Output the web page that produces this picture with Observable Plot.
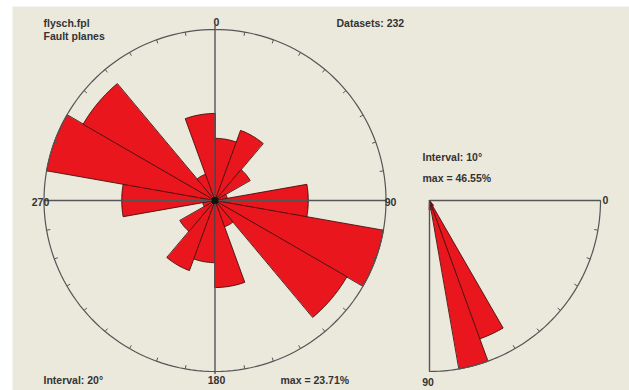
<!DOCTYPE html>
<html>
<head>
<meta charset="utf-8">
<script src="https://cdn.jsdelivr.net/npm/d3@7"></script>
<script src="https://cdn.jsdelivr.net/npm/@observablehq/plot@0.6"></script>
<style>
  html, body { margin: 0; padding: 0; background: #fff; }
</style>
</head>
<body>
<div id="chart"></div>
<script>
// Strike rose of fault planes, 20° classes (bidirectional: each class is repeated at +180°)
const strikeClassStart = [0, 20, 40, 60, 80, 100, 120, 140, 160];
const strikeCounts     = [20, 24, 13, 4, 30, 55, 49, 9, 28];
const strikeInterval = 20;

// Dip diagram, 10° classes (0 = horizontal, 90 = vertical)
const dipClassStart = [0, 10, 20, 30, 40, 50, 60, 70, 80];
const dipCounts     = [0, 0, 0, 0, 0, 4, 93, 108, 6];
const dipInterval = 10;

const fileName = "flysch.fpl";
const dataType = "Fault planes";
const datasetCount = 232;
const compassLabels = [{a: 0, t: "0"}, {a: 90, t: "90"}, {a: 180, t: "180"}, {a: 270, t: "270"}];
const dipLabels = [{a: 0, t: "0"}, {a: 90, t: "90"}];

// layout (pixels): rose centre, radius and the dip quadrant's apex
const W = 629, H = 390, R = 171;
const CX = 214.5, CY = 200, QX = 429;
const X = px => (px - CX) / R;
const Y = py => (CY - py) / R;
const rad = d => d * Math.PI / 180;

const pct = c => 100 * c / datasetCount;
const strikeMax = d3.max(strikeCounts.map(pct));
const dipMax = d3.max(dipCounts.map(pct));

// petal outlines in scale units (1 = outer circle)
const petals = [];
strikeClassStart.forEach((a0, i) => {
  const r = pct(strikeCounts[i]) / strikeMax;
  if (r <= 0) return;
  for (const off of [0, 180]) {
    const id = `s${a0 + off}`;
    petals.push({id, x: 0, y: 0});
    for (let k = 0; k <= 10; k++) {
      const a = rad(a0 + off + strikeInterval * k / 10);
      petals.push({id, x: r * Math.sin(a), y: r * Math.cos(a)});
    }
  }
});
const qx0 = X(QX);
dipClassStart.forEach((a0, i) => {
  const r = pct(dipCounts[i]) / dipMax;
  if (r <= 0) return;
  const id = `d${a0}`;
  petals.push({id, x: qx0, y: 0});
  for (let k = 0; k <= 10; k++) {
    const a = rad(a0 + dipInterval * k / 10);
    petals.push({id, x: qx0 + r * Math.cos(a), y: -r * Math.sin(a)});
  }
});

const circle = d3.range(0, 361, 2).map(d => ({x: Math.sin(rad(d)), y: Math.cos(rad(d))}));
const arc = d3.range(0, 91, 1).map(d => ({x: qx0 + Math.cos(rad(d)), y: -Math.sin(rad(d))}));
const circleTicks = d3.range(10, 360, 10).filter(d => d % 90 !== 0);
const arcTicks = d3.range(10, 90, 10);
const tl = 0.022;

const font = {fontWeight: "bold", fill: "#333", fontSize: 10.5};

const chart = Plot.plot({
  width: W, height: H,
  marginLeft: 12, marginTop: 6, marginRight: 0, marginBottom: 0,
  x: {domain: [X(12), X(W)], axis: null},
  y: {domain: [Y(H), Y(6)], axis: null},
  style: {background: "#fff", fontFamily: "'Liberation Sans', Arial, sans-serif"},
  marks: [
    Plot.frame({fill: "#ebe8dc", stroke: null}),
    // petals
    Plot.line(petals, {x: "x", y: "y", z: "id", fill: "#e9161d", stroke: "#4a0d0d", strokeWidth: 0.9, curve: "linear-closed"}),
    // outer circle and its 10° ticks
    Plot.line(circle, {x: "x", y: "y", stroke: "#555", strokeWidth: 1.2}),
    Plot.link(circleTicks, {x1: d => Math.sin(rad(d)), y1: d => Math.cos(rad(d)),
      x2: d => (1 - tl) * Math.sin(rad(d)), y2: d => (1 - tl) * Math.cos(rad(d)), stroke: "#555", strokeWidth: 1}),
    // N-S and E-W axes
    Plot.link([0], {x1: 0, y1: 1.025, x2: 0, y2: -1.015, stroke: "#555", strokeWidth: 1.4}),
    Plot.link([0], {x1: -1, y1: 0, x2: 1, y2: 0, stroke: "#555", strokeWidth: 1.4}),
    Plot.dot([0], {x: 0, y: 0, r: 3.5, fill: "#111", stroke: null}),
    // dip quadrant
    Plot.line(arc, {x: "x", y: "y", stroke: "#555", strokeWidth: 1.2}),
    Plot.link(arcTicks, {x1: d => qx0 + Math.cos(rad(d)), y1: d => -Math.sin(rad(d)),
      x2: d => qx0 + (1 - tl) * Math.cos(rad(d)), y2: d => -(1 - tl) * Math.sin(rad(d)), stroke: "#555", strokeWidth: 1}),
    Plot.link([0], {x1: qx0, y1: 0, x2: qx0 + 1, y2: 0, stroke: "#555", strokeWidth: 1.4}),
    Plot.link([0], {x1: qx0, y1: 0, x2: qx0, y2: -1, stroke: "#555", strokeWidth: 1.4}),
    // compass labels
    Plot.text(compassLabels, {
      x: d => d.a === 90 ? X(390) : d.a === 270 ? X(40) : X(216),
      y: d => d.a === 0 ? Y(22) : d.a === 180 ? Y(380) : Y(202),
      text: "t",
      textAnchor: d => d.a === 90 ? "start" : d.a === 270 ? "end" : "middle",
      ...font
    }),
    Plot.text(dipLabels, {
      x: d => d.a === 0 ? X(605) : X(427.5), y: d => d.a === 0 ? Y(200) : Y(382),
      text: "t", textAnchor: d => d.a === 0 ? "start" : "middle", ...font
    }),
    // annotations
    Plot.text([fileName, dataType], {x: X(43), y: (d, i) => Y(23 + 13 * i), text: d => d, textAnchor: "start", ...font}),
    Plot.text([`Datasets: ${datasetCount}`], {x: X(336), y: Y(23), text: d => d, textAnchor: "start", ...font}),
    Plot.text([`Interval: ${strikeInterval}°`], {x: X(43), y: Y(380), text: d => d, textAnchor: "start", ...font}),
    Plot.text([`max = ${strikeMax.toFixed(2)}%`], {x: X(280), y: Y(380), text: d => d, textAnchor: "start", ...font}),
    Plot.text([`Interval: ${dipInterval}°`, `max = ${dipMax.toFixed(2)}%`], {x: X(422), y: (d, i) => Y(157 + 21 * i), text: d => d, textAnchor: "start", ...font})
  ]
});
document.getElementById("chart").append(chart);
</script>
</body>
</html>
